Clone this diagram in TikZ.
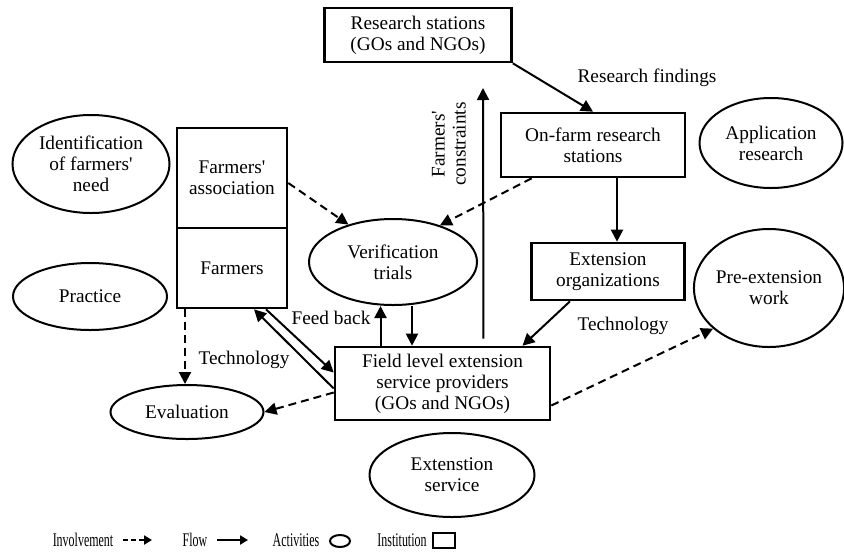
\documentclass[tikz,border=0pt]{standalone}
\usepackage{fontspec}
\setmainfont{Liberation Serif}
\usepackage{graphicx}
\usetikzlibrary{
    positioning,      % Relative positioning
    shapes.geometric, % Ellipses
    arrows.meta,      % Modern arrow tips
    calc              % Coordinate calculations
}
\tikzset{
    inst/.style={draw, rectangle, line width=1.3pt, align=center, inner sep=0pt},
    activity/.style={draw, ellipse, line width=1pt, align=center, inner sep=0pt},
    flow/.style={line width=1pt, -{Triangle[length=6pt,width=6pt]}},
    involve/.style={flow, dash pattern=on 4pt off 2.5pt},
    lbl/.style={align=center, inner sep=0pt},
    keytip/.style={-{Triangle[length=4pt,width=4.5pt]}}
}
\newcommand{\keytext}[1]{\scalebox{0.62}[1]{#1}}

\begin{document}
\begin{tikzpicture}[x=0.5pt,y=-0.5pt,
    every node/.style={font=\fontsize{9.65pt}{10.5pt}\selectfont}]
    \useasboundingbox (0,0) rectangle (844,558);

    % institutions
    \node[inst, minimum width=93.5pt, minimum height=27pt] (resst) at (418,35) {Research stations\\(GOs and NGOs)};
    \node[inst, minimum width=92pt, minimum height=32pt] (onfarm) at (593,145) {On-farm research\\stations};
    \node[inst, minimum width=76.5pt, minimum height=28.5pt] (extorg) at (608,271.5) {Extension\\organizations};
    \node[inst, minimum width=107.5pt, minimum height=36.5pt] (field) at (442.5,383.5) {Field level extension\\service providers\\(GOs and NGOs)};
    \node[inst, minimum width=55pt, minimum height=50pt] (fassoc) at (232,178) {Farmers\textquotesingle\\association};
    \node[inst, minimum width=55pt, minimum height=40pt] (farmers) at (232,268) {Farmers};

    % activities
    \node[activity, minimum width=78.5pt, minimum height=49pt] (ident) at (91,164) {Identification\\of farmers\textquotesingle\\need};
    \node[activity, minimum width=77pt, minimum height=33.5pt] (practice) at (90,296.5) {Practice};
    \node[activity, minimum width=84pt, minimum height=43pt] (verif) at (393,262) {Verification\\trials};
    \node[activity, minimum width=76.5pt, minimum height=27pt] (evalu) at (187,412) {Evaluation};
    \node[activity, minimum width=71.5pt, minimum height=45pt] (appres) at (771,143) {Application\\research};
    \node[activity, minimum width=74pt, minimum height=59pt] (preext) at (769,288) {Pre-extension\\work};
    \node[activity, minimum width=82.5pt, minimum height=42pt] (extserv) at (452,475) {Extenstion\\service};

    % labels
    \node[lbl] (resfind) at (647,78) {Research findings};
    \node[lbl, rotate=90] (cstrlbl) at (449,144) {Farmers\textquotesingle\\constraints};
    \node[lbl] (feedb) at (331,318) {Feed back};
    \node[lbl] (techl) at (244,360) {Technology};
    \node[lbl] (techr) at (623,326) {Technology};
    \coordinate (cstrtip) at (483,88);

    % flows
    \draw[flow] (resst.south east) -- (onfarm.north);
    \draw[flow] ([xshift=12pt]onfarm.south) -- ([xshift=12pt]onfarm.south |- extorg.north);
    \draw[flow] ([xshift=-19pt]extorg.south) -- ([xshift=40pt]field.north);
    \draw[flow, shorten <=3.5pt] ([xshift=20.5pt]field.north) -- (cstrtip);
    \draw[flow] ([xshift=-31pt]field.north) -- ([xshift=-31pt]field.north |- verif.south);
    \draw[flow] ([xshift=9.5pt]verif.south) -- ([xshift=9.5pt]verif.south |- field.north);
    \draw[flow] ([yshift=-2.5pt]field.west) -- ([xshift=11pt]farmers.south);
    \draw[flow] ([xshift=17pt]farmers.south) -- ([yshift=5.5pt]field.west);

    % involvement
    \draw[involve] ([yshift=-2.5pt]fassoc.east) -- (verif.140);
    \draw[involve] ([xshift=16pt]onfarm.south west) -- (verif.38);
    \draw[involve] ([xshift=-23.5pt]farmers.south) -- ([xshift=-23.5pt]farmers.south |- evalu.north);
    \draw[involve] ([yshift=-4.5pt]field.west) -- (evalu.east);
    \draw[involve] ([yshift=-11pt]field.east) -- (preext.216);

    % key
    \node[lbl] (keyinv) at (83,540) {\keytext{Involvement}};
    \coordinate (keyinva) at (123,540);
    \coordinate (keyinvb) at (152,540);
    \draw[involve, keytip, dash pattern=on 2.5pt off 1.5pt] (keyinva) -- (keyinvb);
    \node[lbl] (keyflow) at (195,540) {\keytext{Flow}};
    \coordinate (keyflowa) at (217,540);
    \coordinate (keyflowb) at (248,540);
    \draw[flow, keytip] (keyflowa) -- (keyflowb);
    \node[lbl] (keyact) at (296,540) {\keytext{Activities}};
    \node[activity, minimum width=10pt, minimum height=6pt] (keyell) at (340,541) {};
    \node[lbl] (keyinst) at (402,540) {\keytext{Institution}};
    \node[inst, line width=1pt, minimum width=11pt, minimum height=7.5pt] (keybox) at (444,540) {};
\end{tikzpicture}
\end{document}
